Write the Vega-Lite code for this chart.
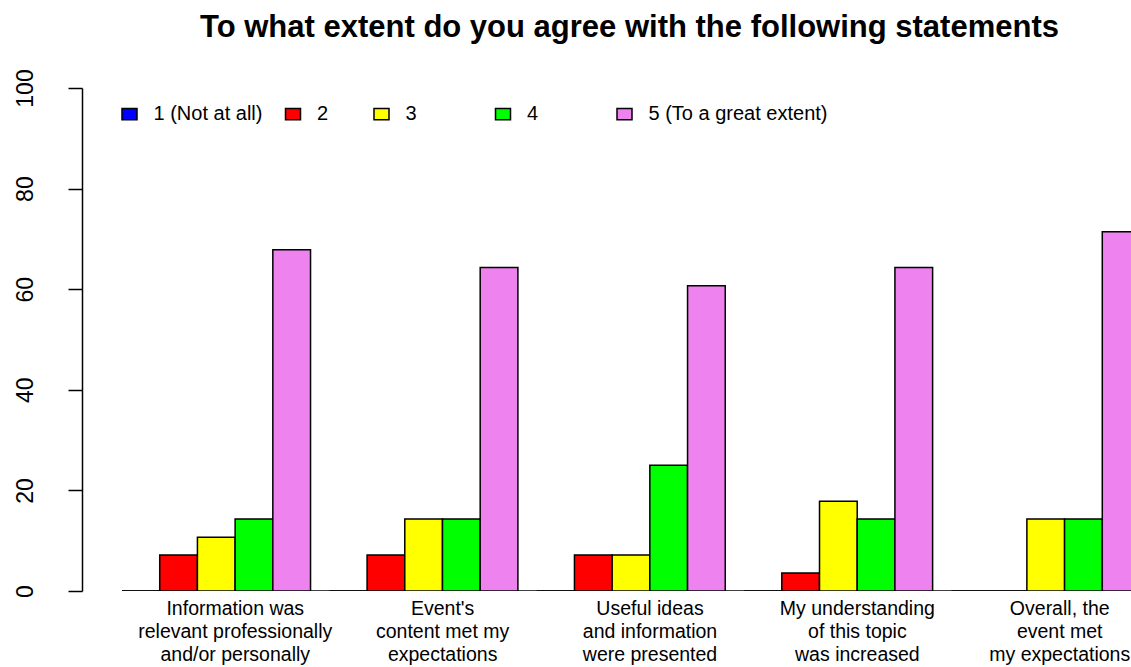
{
  "$schema": "https://vega.github.io/schema/vega-lite/v6.json",
  "autosize": {"type": "none"},
  "padding": {"left": 82, "top": 88, "right": 0, "bottom": 76},
  "width": 1049,
  "height": 503,
  "config": {
    "font": "Liberation Sans",
    "view": {"stroke": null},
    "background": "white"
  },
  "title": {
    "text": "To what extent do you agree with the following statements",
    "fontSize": 31,
    "fontWeight": "bold",
    "color": "black",
    "anchor": "middle",
    "dx": 23,
    "baseline": "alphabetic",
    "offset": 1
  },
  "layer": [
    {
      "data": {"values": [{"start": "Information was\nrelevant professionally\nand/or personally", "end": "Overall, the\nevent met\nmy expectations"}]},
      "mark": {"type": "rule", "color": "black", "strokeWidth": 1.5, "clip": true},
      "encoding": {
        "x": {"field": "start", "type": "nominal", "bandPosition": 0},
        "x2": {"field": "end", "bandPosition": 1},
        "y": {"datum": 0, "type": "quantitative"}
      }
    },
    {
      "data": {
        "values": [
          {"statement": "Information was\nrelevant professionally\nand/or personally", "rating": "1 (Not at all)", "percent": 0},
          {"statement": "Information was\nrelevant professionally\nand/or personally", "rating": "2", "percent": 7.14},
          {"statement": "Information was\nrelevant professionally\nand/or personally", "rating": "3", "percent": 10.71},
          {"statement": "Information was\nrelevant professionally\nand/or personally", "rating": "4", "percent": 14.29},
          {"statement": "Information was\nrelevant professionally\nand/or personally", "rating": "5 (To a great extent)", "percent": 67.86},
          {"statement": "Event's\ncontent met my\nexpectations", "rating": "1 (Not at all)", "percent": 0},
          {"statement": "Event's\ncontent met my\nexpectations", "rating": "2", "percent": 7.14},
          {"statement": "Event's\ncontent met my\nexpectations", "rating": "3", "percent": 14.29},
          {"statement": "Event's\ncontent met my\nexpectations", "rating": "4", "percent": 14.29},
          {"statement": "Event's\ncontent met my\nexpectations", "rating": "5 (To a great extent)", "percent": 64.29},
          {"statement": "Useful ideas\nand information\nwere presented", "rating": "1 (Not at all)", "percent": 0},
          {"statement": "Useful ideas\nand information\nwere presented", "rating": "2", "percent": 7.14},
          {"statement": "Useful ideas\nand information\nwere presented", "rating": "3", "percent": 7.14},
          {"statement": "Useful ideas\nand information\nwere presented", "rating": "4", "percent": 25},
          {"statement": "Useful ideas\nand information\nwere presented", "rating": "5 (To a great extent)", "percent": 60.71},
          {"statement": "My understanding\nof this topic\nwas increased", "rating": "1 (Not at all)", "percent": 0},
          {"statement": "My understanding\nof this topic\nwas increased", "rating": "2", "percent": 3.57},
          {"statement": "My understanding\nof this topic\nwas increased", "rating": "3", "percent": 17.86},
          {"statement": "My understanding\nof this topic\nwas increased", "rating": "4", "percent": 14.29},
          {"statement": "My understanding\nof this topic\nwas increased", "rating": "5 (To a great extent)", "percent": 64.29},
          {"statement": "Overall, the\nevent met\nmy expectations", "rating": "1 (Not at all)", "percent": 0},
          {"statement": "Overall, the\nevent met\nmy expectations", "rating": "2", "percent": 0},
          {"statement": "Overall, the\nevent met\nmy expectations", "rating": "3", "percent": 14.29},
          {"statement": "Overall, the\nevent met\nmy expectations", "rating": "4", "percent": 14.29},
          {"statement": "Overall, the\nevent met\nmy expectations", "rating": "5 (To a great extent)", "percent": 71.43}
        ]
      },
      "mark": {"type": "bar", "stroke": "black", "strokeWidth": 1.5, "clip": true},
      "encoding": {
        "x": {
          "field": "statement",
          "type": "nominal",
          "sort": null,
          "scale": {
            "domain": [
              "Information was\nrelevant professionally\nand/or personally",
              "Event's\ncontent met my\nexpectations",
              "Useful ideas\nand information\nwere presented",
              "My understanding\nof this topic\nwas increased",
              "Overall, the\nevent met\nmy expectations"
            ],
            "range": [0, 1098],
            "paddingInner": 0.0909,
            "paddingOuter": 0.193
          },
          "axis": {
            "title": null,
            "domain": false,
            "ticks": false,
            "labelAngle": 0,
            "labelAlign": "center",
            "labelOffset": {"condition": {"test": "indexof(datum.value, 'Overall') == 0", "value": 14}, "value": 19},
            "labelPadding": 8,
            "labelFontSize": 19.5,
            "labelLineHeight": 23,
            "labelColor": "black",
            "labelLimit": 0,
            "labelBaseline": "top",
            "labelExpr": "split(datum.label, '\\n')"
          }
        },
        "xOffset": {
          "field": "rating",
          "type": "nominal",
          "sort": null,
          "scale": {"paddingInner": 0, "paddingOuter": 0}
        },
        "y": {
          "field": "percent",
          "type": "quantitative",
          "scale": {"domain": [0, 100], "nice": false, "zero": true},
          "axis": {
            "title": null,
            "grid": false,
            "values": [0, 20, 40, 60, 80, 100],
            "domainColor": "black",
            "domainWidth": 1.5,
            "tickColor": "black",
            "tickWidth": 1.5,
            "tickSize": 14,
            "labelAngle": 270,
            "labelAlign": "center",
            "labelBaseline": "alphabetic",
            "labelPadding": 36,
            "labelFontSize": 23,
            "labelColor": "black"
          }
        },
        "color": {
          "field": "rating",
          "type": "nominal",
          "scale": {
            "domain": ["1 (Not at all)", "2", "3", "4", "5 (To a great extent)"],
            "range": ["#0000FF", "#FF0000", "#FFFF00", "#00FF00", "#EE82EE"]
          },
          "legend": {
            "title": null,
            "orient": "none",
            "direction": "horizontal",
            "legendX": 37.5,
            "legendY": 16,
            "padding": 0,
            "gridAlign": "each",
            "columnPadding": 19.5,
            "symbolType": "M-1,-0.75H1V0.75H-1Z",
            "symbolSize": 225,
            "symbolStrokeColor": "black",
            "symbolStrokeWidth": 1.5,
            "symbolOpacity": 1,
            "labelOffset": 14,
            "labelFontSize": 20,
            "labelColor": "black",
            "labelLimit": 0,
            "labelExpr": "datum.label == '2' ? '2\u00a0\u00a0\u00a0\u00a0\u200b' : datum.label == '3' ? '3\u00a0\u00a0\u00a0\u00a0\u00a0\u00a0\u00a0\u00a0\u00a0\u00a0\u200b' : datum.label == '4' ? '4\u00a0\u00a0\u00a0\u00a0\u00a0\u00a0\u00a0\u00a0\u00a0\u00a0\u200b' : datum.label"
          }
        }
      }
    }
  ]
}
